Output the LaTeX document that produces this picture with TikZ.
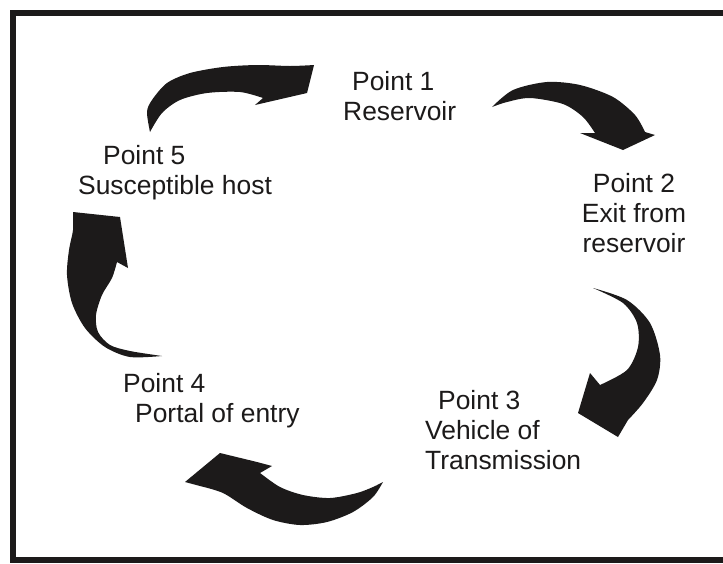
\documentclass[tikz,border=0pt]{standalone}
\usepackage{fontspec}
\setmainfont{Liberation Sans}
\definecolor{ink}{RGB}{28,26,26}
\begin{document}
\begin{tikzpicture}[x=1pt,y=-1pt,
  pointtext/.style={inner sep=0pt,text=ink,font=\fontsize{26.4}{30}\selectfont},
  blob/.style={fill=ink,draw=none}]
\useasboundingbox (0,0) rectangle (723,563);
\fill[white] (0,0) rectangle (723,563);
\draw[ink,line width=6pt] (13,13) rectangle (770,560);
\node[pointtext,anchor=base west,align=left] (p1) at (343,120) {\hspace*{9pt}Point 1\\Reservoir};
\node[pointtext,anchor=base,align=center] (p2) at (634,252) {Point 2\\Exit from\\reservoir};
\node[pointtext,anchor=base west,align=left] (p3) at (425,469) {\hspace*{13pt}Point 3\\Vehicle of\\Transmission};
\node[pointtext,anchor=base west,align=left] (p4) at (123,422) {Point 4\\\hspace*{12pt}Portal of entry};
\node[pointtext,anchor=base west,align=left] (p5) at (78,194) {\hspace*{25pt}Point 5\\Susceptible host};
\fill[blob] plot[smooth] coordinates {(150,132) (147,112) (152,100) (167,83) (190,73) (223,67) (257,65) (290,66) (314,65)} -- (307,93) -- (255,105) -- plot[smooth] coordinates {(263,98) (240,92) (207,93) (180,100) (162,113) (150,132)} -- cycle;
\fill[blob] plot[smooth] coordinates {(492,107) (513,90) (547,82) (580,85) (613,97) (635,115) (645,132)} -- (655,135) -- (623,150) -- (580,133) -- plot[smooth] coordinates {(595,133) (583,117) (563,104) (530,98) (507,102) (492,107)} -- cycle;
\fill[blob] plot[smooth] coordinates {(593,288) (627,300) (650,323) (660,355) (657,380) (643,403) (628,420)} -- (618,437) -- (578,413) -- (590,373) -- plot[smooth] coordinates {(600,385) (627,370) (638,347) (637,323) (623,303) (593,288)} -- cycle;
\fill[blob] plot[smooth] coordinates {(383,482) (373,497) (353,512) (327,522) (300,525) (273,520) (247,508) (223,493) (200,486)} -- (185,482) -- (220,453) -- (257,462) -- (272,466) -- plot[smooth] coordinates {(260,473) (280,487) (303,495) (330,498) (357,493) (373,487) (383,482)} -- cycle;
\fill[blob] plot[smooth] coordinates {(162,356) (130,357) (105,347) (85,328) (72,303) (67,275) (69,250) (73,230) (73,212)} -- (120,217) -- (128,268) -- plot[smooth] coordinates {(117,262) (112,278) (102,295) (96,315) (98,332) (110,345) (130,351) (162,356)} -- cycle;
\end{tikzpicture}
\end{document}
